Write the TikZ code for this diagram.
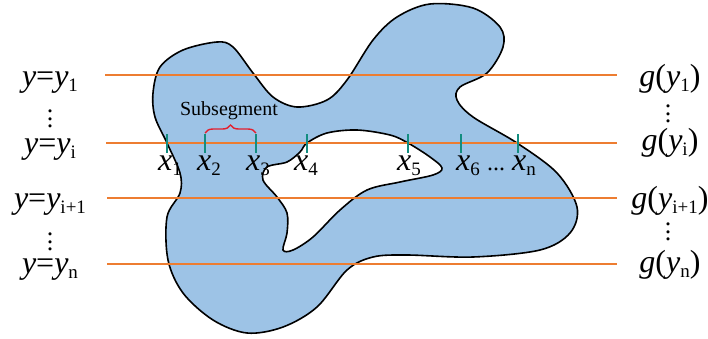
\documentclass[tikz,border=0pt]{standalone}
\usepackage{fontspec}
\setmainfont{Liberation Serif}
\usetikzlibrary{decorations.pathreplacing}
\definecolor{blobblue}{HTML}{9DC3E6}
\definecolor{lineorange}{HTML}{ED7D31}
\definecolor{tickteal}{HTML}{138D80}
\definecolor{bracered}{HTML}{E3202E}
\newcommand{\lsub}[1]{\raisebox{-5pt}{\fontsize{19}{19}\selectfont #1}}
\newcommand{\vdts}{\vbox{\baselineskip=7.5pt\lineskiplimit=0pt\hbox{.}\hbox{.}\hbox{.}}}
\tikzset{
  lbl/.style={inner sep=0pt, font=\fontsize{32}{36}\selectfont},
  xlbl/.style={inner sep=0pt, anchor=base west, font=\fontsize{32}{36}\selectfont},
  vdotsnode/.style={inner sep=0pt, font=\fontsize{26}{26}\selectfont},
  hline/.style={draw=lineorange, line width=2.6pt},
  ticks/.style={draw=tickteal, line width=2.4pt},
  outline/.style={draw=black, line width=1.6pt},
}
\begin{document}
\begin{tikzpicture}[x=1pt,y=-1pt]
\useasboundingbox (0,0) rectangle (708,338);
% blob fill
\fill[blobblue, even odd rule]
  plot[smooth cycle, tension=0.55] coordinates {
   (153,93) (155,117) (167,143) (180,173) (180,193) (167,217) (168,260)
   (183,293) (213,320) (247,333) (283,327) (317,307) (347,270) (373,257)
   (407,255) (473,257) (540,250) (570,233) (577,207) (557,173) (517,143)
   (473,117) (457,100) (460,87) (487,73) (503,47) (500,27) (473,8)
   (430,4) (397,17) (373,40) (347,80) (327,100) (297,107) (273,97)
   (253,73) (233,47) (217,42) (183,50) (160,67)}
  plot[smooth cycle, tension=0.55] coordinates {
   (307,143) (327,133) (357,130) (390,135) (408,143) (430,157) (442,168)
   (433,175) (400,182) (367,190) (340,210) (313,237) (293,250) (283,250)
   (287,233) (287,213) (277,197) (263,180) (267,167) (287,162) (300,152)};
% x labels
\node[xlbl] (x1) at (158,170) {\textit{x}\lsub{1}};
\node[xlbl] (x2) at (197,170) {\textit{x}\lsub{2}};
\node[xlbl] (x3) at (246,170) {\textit{x}\lsub{3}};
\node[xlbl] (x4) at (294,170) {\textit{x}\lsub{4}};
\node[xlbl] (x5) at (397,170) {\textit{x}\lsub{5}};
\node[xlbl] (x6) at (456,170) {\textit{x}\lsub{6}};
\node[xlbl, font=\fontsize{24}{26}\selectfont] (xdots) at (487,170) {...};
\node[xlbl] (xn) at (512,170) {\textit{x}\lsub{n}};
% outlines
\draw[outline]
  plot[smooth cycle, tension=0.55] coordinates {
   (153,93) (155,117) (167,143) (180,173) (180,193) (167,217) (168,260)
   (183,293) (213,320) (247,333) (283,327) (317,307) (347,270) (373,257)
   (407,255) (473,257) (540,250) (570,233) (577,207) (557,173) (517,143)
   (473,117) (457,100) (460,87) (487,73) (503,47) (500,27) (473,8)
   (430,4) (397,17) (373,40) (347,80) (327,100) (297,107) (273,97)
   (253,73) (233,47) (217,42) (183,50) (160,67)};
\draw[outline]
  plot[smooth cycle, tension=0.55] coordinates {
   (307,143) (327,133) (357,130) (390,135) (408,143) (430,157) (442,168)
   (433,175) (400,182) (367,190) (340,210) (313,237) (293,250) (283,250)
   (287,233) (287,213) (277,197) (263,180) (267,167) (287,162) (300,152)};
% horizontal lines
\coordinate (l1a) at (105,75);  \coordinate (l1b) at (617,75);
\coordinate (l2a) at (106,143); \coordinate (l2b) at (617,143);
\coordinate (l3a) at (107,198); \coordinate (l3b) at (617,198);
\coordinate (l4a) at (107,264); \coordinate (l4b) at (617,264);
\draw[hline] (l1a) -- (l1b);
\draw[hline] (l2a) -- (l2b);
\draw[hline] (l3a) -- (l3b);
\draw[hline] (l4a) -- (l4b);
% ticks
\foreach \t/\n in {167/1,205/2,256/3,307/4,408/5,461/6,518/n}{
  \coordinate (t\n a) at (\t,134);
  \coordinate (t\n b) at (\t,153);
  \draw[ticks] (t\n a) -- (t\n b);
}
% brace
\coordinate (ba) at (205,133);
\coordinate (bb) at (256,133);
\draw[bracered, line width=1.4pt, decorate, decoration={brace, amplitude=8pt}] (ba) -- (bb);
\node[inner sep=0pt, anchor=base, font=\fontsize{20}{24}\selectfont] (sub) at (229,115) {Subsegment};
% left labels
\node[lbl, anchor=base] (yl1) at (50,86) {\textit{y}=\textit{y}\lsub{1}};
\node[vdotsnode] (vdl1) at (50,119) {\vdts};
\node[lbl, anchor=base] (yli) at (50,153) {\textit{y}=\textit{y}\lsub{i}};
\node[lbl, anchor=base] (yli1) at (50,208) {\textit{y}=\textit{y}\lsub{i+1}};
\node[vdotsnode] (vdl2) at (50,242) {\vdts};
\node[lbl, anchor=base] (yln) at (50,273) {\textit{y}=\textit{y}\lsub{n}};
% right labels
\node[lbl, anchor=base] (g1) at (670,86) {\textit{g}(\textit{y}\lsub{1})};
\node[vdotsnode] (vdr1) at (668,114) {\vdts};
\node[lbl, anchor=base] (gi) at (670,150) {\textit{g}(\textit{y}\lsub{i})};
\node[lbl, anchor=base] (gi1) at (670,208) {\textit{g}(\textit{y}\lsub{i+1})};
\node[vdotsnode] (vdr2) at (668,232) {\vdts};
\node[lbl, anchor=base] (gn) at (670,272) {\textit{g}(\textit{y}\lsub{n})};
\end{tikzpicture}
\end{document}
